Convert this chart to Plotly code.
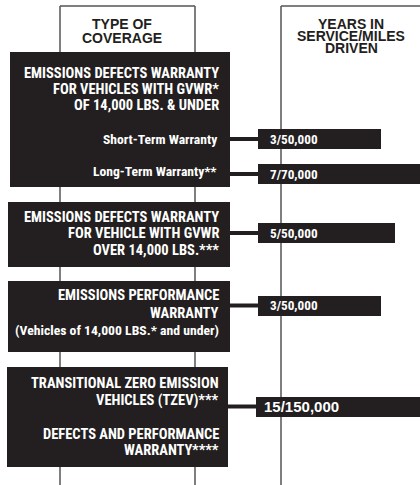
import plotly.graph_objects as go

# ---- data ----
header_left = ["TYPE OF", "COVERAGE"]
header_right = ["YEARS IN", "SERVICE/MILES", "DRIVEN"]

block_lines = [
    ["EMISSIONS DEFECTS WARRANTY", "FOR VEHICLES WITH GVWR*", "OF 14,000 LBS. & UNDER"],
    ["EMISSIONS DEFECTS WARRANTY", "FOR VEHICLE WITH GVWR", "OVER 14,000 LBS.***"],
    ["EMISSIONS PERFORMANCE", "WARRANTY", "(Vehicles of 14,000 LBS.* and under)"],
    ["TRANSITIONAL ZERO EMISSION", "VEHICLES (TZEV)***", "", "DEFECTS AND PERFORMANCE", "WARRANTY****"],
]
sub_labels = ["Short-Term Warranty", "Long-Term Warranty**"]

terms = ["3/50,000", "7/70,000", "5/50,000", "3/50,000", "15/150,000"]
bar_length = [123, 175, 137, 123, 177]   # horizontal extent of each term bar

# ---- layout constants ----
INK = "#231f20"
GRID = "#555555"
W, H = 420, 485
row_y = [139, 174, 233, 305.5, 406.5]
bar_x0 = [258, 258, 258, 258, 256]
term_pad = [10, 10, 10, 10, 6]
term_font = [("Roboto Condensed", 13.2)] * 4 + [("Liberation Sans", 15)]
blocks = [(10, 52, 230, 187), (8, 202, 230, 267), (8, 281, 230, 352), (7, 367, 228, 467)]
block_conn_x = [230, 230, 230, 230, 228]
block_line_y = [[73, 89, 105], [217, 233, 250], [295.5, 313, 330], [383.5, 400, None, 434, 450]]
block_line_size = [[14.5] * 3, [14.5] * 3, [14.5, 14.5, 13.7], [14.5] * 5]
sub_y = [139, 171]
TEXT_R = 221

narrow = "Roboto Condensed"

fig = go.Figure()

fig.add_trace(go.Bar(
    orientation="h",
    y=row_y,
    x=bar_length,
    base=bar_x0,
    width=20,
    marker=dict(color=INK, line=dict(width=0)),
    hoverinfo="skip",
    showlegend=False,
))

shapes = []
for x in (60, 195, 281):
    shapes.append(dict(type="line", x0=x, x1=x, y0=6, y1=H, line=dict(color=GRID, width=1.5), layer="below"))
shapes.append(dict(type="line", x0=60, x1=195, y0=6, y1=6, line=dict(color=GRID, width=1.5), layer="below"))
shapes.append(dict(type="line", x0=281, x1=W + 5, y0=6, y1=6, line=dict(color=GRID, width=1.5), layer="below"))
for cx, bx, yy in zip(block_conn_x, bar_x0, row_y):
    shapes.append(dict(type="line", x0=cx - 1, x1=bx + 1, y0=yy, y1=yy, line=dict(color=INK, width=4), layer="below"))
for (x0, y0, x1, y1) in blocks:
    shapes.append(dict(type="rect", x0=x0, x1=x1, y0=y0, y1=y1, fillcolor=INK, line=dict(width=0), layer="above"))

ann = []
for i, t in enumerate(header_left):
    ann.append(dict(x=122, y=[23.5, 38][i], text=t, showarrow=False, xanchor="center", yanchor="middle",
                    font=dict(family="Liberation Sans", size=14, color=INK, weight="bold")))
for i, t in enumerate(header_right):
    ann.append(dict(x=351, y=[23.5, 35.5, 47.5][i], text=t, showarrow=False, xanchor="center", yanchor="middle",
                    font=dict(family="Liberation Sans", size=14, color=INK, weight="bold")))
for lines, ys, sizes in zip(block_lines, block_line_y, block_line_size):
    for t, yy, sz in zip(lines, ys, sizes):
        if not t:
            continue
        ann.append(dict(x=TEXT_R, y=yy, text=t, showarrow=False, xanchor="right", yanchor="middle",
                        font=dict(family=narrow, size=sz, color="white", weight="bold")))
for t, yy in zip(sub_labels, sub_y):
    ann.append(dict(x=TEXT_R - 2, y=yy, text=t, showarrow=False, xanchor="right", yanchor="middle",
                    font=dict(family=narrow, size=13.6, color="white", weight="bold")))
for t, bx, yy, pad, (fam, sz) in zip(terms, bar_x0, row_y, term_pad, term_font):
    ann.append(dict(x=bx + pad, y=yy, text=t, showarrow=False, xanchor="left", yanchor="middle",
                    font=dict(family=fam, size=sz, color="white", weight="bold")))

fig.update_layout(
    width=W, height=H,
    margin=dict(l=0, r=0, t=0, b=0),
    paper_bgcolor="white", plot_bgcolor="white",
    xaxis=dict(range=[0, W], visible=False, fixedrange=True),
    yaxis=dict(range=[H, 0], visible=False, fixedrange=True),
    shapes=shapes, annotations=ann, bargap=0,
)

fig.write_html("out.html", config={"displayModeBar": False},
               post_script="document.body.style.margin='0';")
